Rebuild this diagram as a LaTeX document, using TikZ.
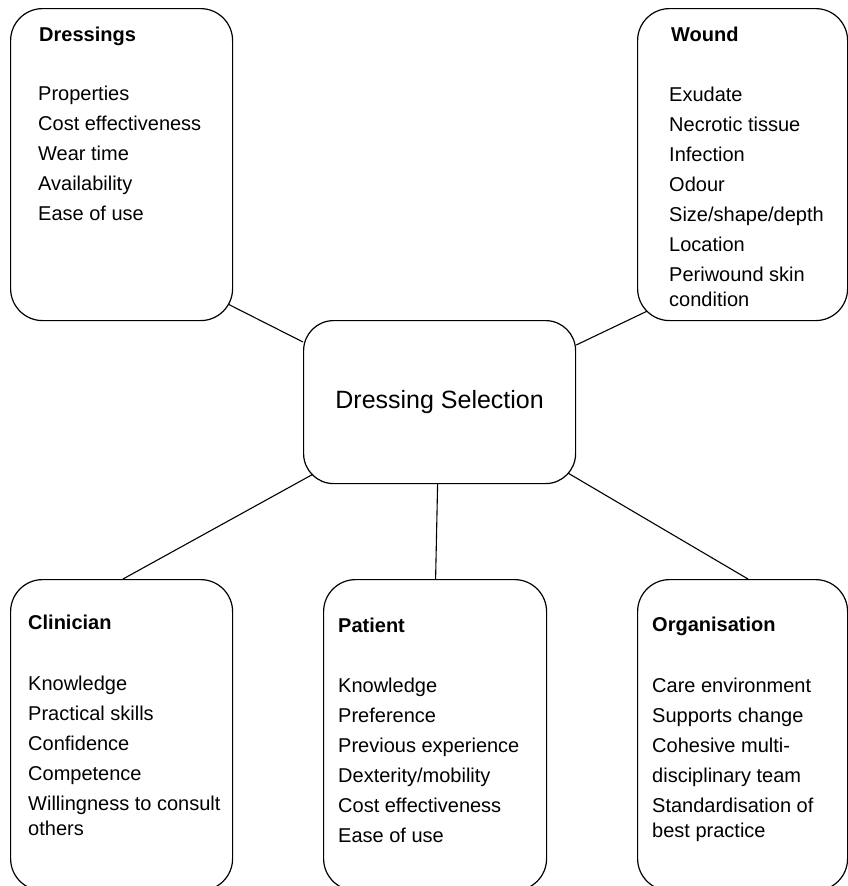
\documentclass[tikz,border=0pt]{standalone}
\usepackage{fontspec}
\setmainfont{Liberation Sans}
\usetikzlibrary{calc}
\begin{document}
\begin{tikzpicture}[x=1pt,y=-1pt,
  panel/.style={draw, line width=1.2pt, rounded corners=32pt, inner sep=0pt, anchor=north west},
  hub/.style={draw, line width=1.2pt, rounded corners=30pt, inner sep=0pt, anchor=north west,
    minimum width=272pt, minimum height=163pt, font=\fontsize{25}{30}\selectfont},
  heading/.style={anchor=north west, inner sep=0pt, font=\fontsize{20}{24}\selectfont\bfseries},
  items/.style={anchor=north west, inner sep=0pt, align=left, font=\fontsize{20}{30}\selectfont},
  link/.style={line width=1.1pt}]
\clip (0,0) rectangle (848,886);

% category panels
\node[panel, minimum width=222pt, minimum height=312pt] (dress) at (10,8) {};
\node[panel, minimum width=210pt, minimum height=312pt] (wound) at (637,8) {};
\node[panel, minimum width=222pt, minimum height=311pt] (clin) at (10,579) {};
\node[panel, minimum width=223pt, minimum height=311pt] (pat) at (323,579) {};
\node[panel, minimum width=210pt, minimum height=311pt] (org) at (637,579) {};

% central box
\node[hub] (hub) at (303,320) {};
\node[font=\fontsize{25}{30}\selectfont] (hubtext) at (hub.center) {Dressing Selection};

% panel contents
\node[heading] (dressh) at (39,27) {Dressings};
\node[items] (dressl) at (38,86) {Properties\\Cost effectiveness\\Wear time\\Availability\\Ease of use};

\node[heading] (woundh) at (671,27) {Wound};
\node[items] (woundl) at (669,87) {Exudate\\Necrotic tissue\\Infection\\Odour\\Size/shape/depth\\Location\\Periwound skin\\[-5pt]condition};

\node[heading] (clinh) at (28,615) {Clinician};
\node[items] (clinl) at (28,676) {Knowledge\\Practical skills\\Confidence\\Competence\\Willingness to consult\\[-5pt]others};

\node[heading] (path) at (338,618) {Patient};
\node[items] (patl) at (338,678) {Knowledge\\Preference\\Previous experience\\Dexterity/mobility\\Cost effectiveness\\Ease of use};

\node[heading] (orgh) at (652,617) {Organisation};
\node[items] (orgl) at (652,678) {Care environment\\Supports change\\Cohesive multi-\\disciplinary team\\Standardisation of\\[-5pt]best practice};

% connectors
\draw[link] ($(dress.south east)+(-5,-17)$) -- ($(hub.north west)+(0,22)$);
\draw[link] ($(wound.south west)+(10,-10)$) -- ($(hub.north east)+(0,25)$);
\draw[link] ($(hub.south west)+(10,-10)$) -- ($(clin.north west)+(113,0)$);
\draw[link] ($(hub.south)+(-2,0)$) -- ($(pat.north)+(0.5,0)$);
\draw[link] ($(hub.south east)+(-8,-11)$) -- ($(org.north west)+(111,0)$);
\end{tikzpicture}
\end{document}
